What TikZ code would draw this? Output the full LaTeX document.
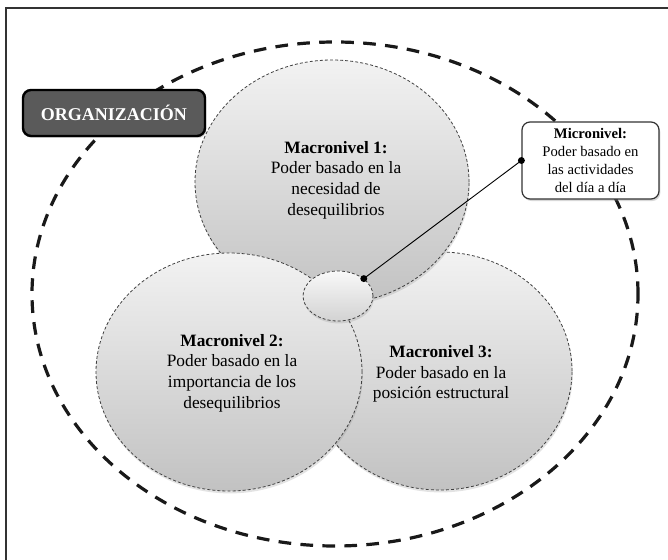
\documentclass[tikz,border=0pt]{standalone}
\usepackage{fontspec}
\setmainfont{Liberation Serif}
\usetikzlibrary{shapes.geometric,shadows}
\definecolor{orgfill}{HTML}{5A5A5A}
\def\pxu{0.75pt}
\begin{document}
\begin{tikzpicture}[x=0.75pt,y=-0.75pt,
  circ/.style={ellipse, draw=black!75, line width=0.6pt, dash pattern=on 2.2pt off 1.6pt,
    top color=gray!10, bottom color=gray!48, inner sep=0,
    drop shadow={opacity=0.22,shadow xshift=0.6pt,shadow yshift=-1.8pt}},
  lbl/.style={align=center, font=\fontsize{13}{15.5}\selectfont, inner sep=0},
  outerring/.style={ellipse, draw=black!90, line width=2.4pt, dash pattern=on 9.5pt off 7pt, inner sep=0},
  orgbox/.style={draw=black, line width=1.8pt, fill=orgfill, rounded corners=6pt, text=white,
    font=\bfseries\fontsize{13.5}{16}\selectfont, inner sep=0,
    drop shadow={opacity=0.3,shadow xshift=1pt,shadow yshift=-1.5pt}},
  micbox/.style={draw=black!80, line width=0.9pt, fill=white, rounded corners=6pt, align=center,
    font=\fontsize{11}{13.5}\selectfont, inner sep=0,
    drop shadow={opacity=0.3,shadow xshift=1pt,shadow yshift=-1.5pt}},
  conn/.style={line width=0.7pt, black}]
\useasboundingbox (0,0) rectangle (668,560);
\fill[white] (0,0) rectangle (668,560);
\draw[line width=1.1pt, black!80] (6,560) -- (6,8) -- (668,8);

\node[outerring, minimum width=606*\pxu, minimum height=504*\pxu] (org) at (335,294) {};

\node[circ, minimum width=264*\pxu, minimum height=238*\pxu] (m3) at (440,371) {};
\node[circ, minimum width=274*\pxu, minimum height=244*\pxu] (m1) at (332,182) {};
\node[circ, minimum width=266*\pxu, minimum height=238*\pxu] (m2) at (229,372) {};
\node[circ, top color=gray!5, bottom color=gray!35, minimum width=70*\pxu, minimum height=50*\pxu] (ms) at (338,296) {};

\node[lbl] (t1) at (336,180) {\textbf{Macronivel 1:}\\Poder basado en la\\necesidad de\\desequilibrios};
\node[lbl] (t2) at (232,373) {\textbf{Macronivel 2:}\\Poder basado en la\\importancia de los\\desequilibrios};
\node[lbl] (t3) at (441,374) {\textbf{Macronivel 3:}\\Poder basado en la\\posición estructural};

\node[orgbox, minimum width=182*\pxu, minimum height=46*\pxu] (orgl) at (114,113) {ORGANIZACIÓN};

\node[micbox, minimum width=137*\pxu, minimum height=77*\pxu] (mic) at (590.5,160.5) {\textbf{Micronivel:}\\Poder basado en\\las actividades\\del día a día};

\draw[conn] (ms.34) -- (mic.west);
\fill[black] (ms.34) circle[radius=2.6pt];
\fill[black] (mic.west) circle[radius=2.6pt];
\end{tikzpicture}
\end{document}
